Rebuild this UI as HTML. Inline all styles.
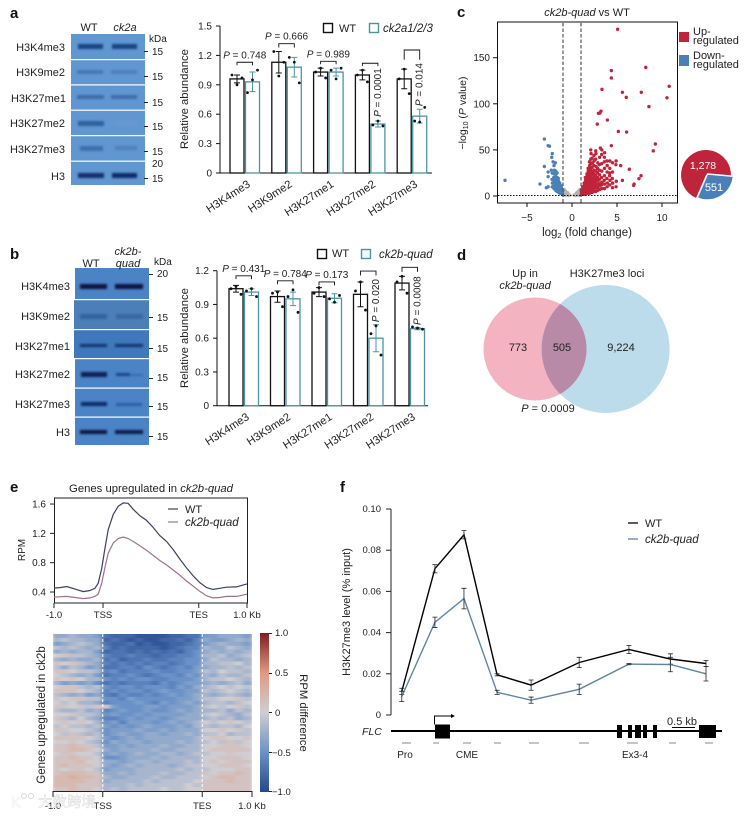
<!DOCTYPE html>
<html lang="en">
<head>
<meta charset="utf-8">
<title>Histone methylation figure</title>
<style>
html,body{margin:0;padding:0;background:#fff;}
svg{display:block;}
text{font-family:"Liberation Sans","Noto Sans CJK SC",sans-serif;fill:#222;}
.i{font-style:italic;}
.l{font-weight:bold;font-size:15px;fill:#111;}
</style>
</head>
<body>
<svg id="fig" width="749" height="816" viewBox="0 0 749 816" xmlns="http://www.w3.org/2000/svg">
<defs>
<filter id="bl" x="-20%" y="-100%" width="140%" height="300%"><feGaussianBlur stdDeviation="1.1"/></filter>
<filter id="hb" x="-2%" y="-2%" width="104%" height="104%"><feGaussianBlur stdDeviation="2 0.3"/></filter>
<clipPath id="hc"><rect x="53" y="634" width="199" height="157"/></clipPath>
<linearGradient id="cb" x1="0" y1="0" x2="0" y2="1">
<stop offset="0" stop-color="#7f1d22"/><stop offset=".25" stop-color="#e09a80"/><stop offset=".5" stop-color="#cfcdd2"/><stop offset=".75" stop-color="#6a92c8"/><stop offset="1" stop-color="#24488f"/>
</linearGradient>
</defs>
<rect width="749" height="816" fill="#fff"/>

<text class="l" x="10" y="18">a</text>
<text class="l" x="10" y="259">b</text>
<text class="l" x="457" y="17">c</text>
<text class="l" x="457" y="260">d</text>
<text class="l" x="10" y="492">e</text>
<text class="l" x="340" y="492">f</text>

<!-- Panel a blot -->
<g>
<rect x="71" y="34" width="74" height="151" fill="#6097d0"/>
<g filter="url(#bl)">
<rect x="78" y="44" width="25" height="5" fill="#1f4286"/><rect x="112" y="44" width="25" height="5" fill="#1f4286"/>
<rect x="77" y="70" width="26" height="4" fill="#4578b6"/><rect x="111" y="70" width="26" height="4" fill="#4d7fbc"/>
<rect x="77" y="95" width="27" height="4" fill="#3c6cab"/><rect x="111" y="95" width="26" height="4" fill="#3d6dac"/>
<rect x="78" y="121" width="26" height="5" fill="#2f5e9f"/><rect x="113" y="121" width="25" height="4" fill="#6a97cb"/>
<rect x="80" y="146" width="23" height="5" fill="#3c6eae"/><rect x="115" y="146" width="22" height="4" fill="#527fbb"/>
<rect x="78" y="173" width="26" height="5" fill="#122f6e"/><rect x="112" y="173" width="25" height="5" fill="#0f2a66"/>
</g>
<rect x="71" y="59" width="74" height="1.2" fill="#fff"/><rect x="71" y="84.3" width="74" height="1.2" fill="#fff"/><rect x="71" y="109.6" width="74" height="1.2" fill="#fff"/><rect x="71" y="135" width="74" height="1.2" fill="#fff"/><rect x="71" y="160.6" width="74" height="1.2" fill="#fff"/>
</g>
<g font-size="11" text-anchor="end">
<text x="65" y="51">H3K4me3</text><text x="65" y="76">H3K9me2</text><text x="66" y="102">H3K27me1</text><text x="65" y="127">H3K27me2</text><text x="65" y="153">H3K27me3</text><text x="65" y="180">H3</text>
</g>
<g font-size="11" text-anchor="middle"><text x="89" y="31">WT</text><text x="125" y="31" class="i">ck2a</text></g>
<g font-size="10">
<text x="149" y="42">kDa</text><text x="152" y="55">15</text><text x="152" y="80">15</text><text x="152" y="106">15</text><text x="152" y="130">15</text><text x="152" y="155">15</text><text x="152" y="167">20</text><text x="152" y="182">15</text>
<path d="M144 51.500h4M144 76.500h4M144 102.500h4M144 126.500h4M144 151.500h4M144 178.500h4" stroke="#222" stroke-width="1"/>
</g>

<!-- Panel b blot -->
<g>
<rect x="75" y="268" width="74" height="177" fill="#4a84c6"/>
<rect x="74" y="300" width="75" height="29" fill="#4c7fb8"/>
<rect x="74" y="329" width="75" height="29" fill="#4078bc"/>
<g filter="url(#bl)">
<rect x="80" y="284" width="27" height="5" fill="#08183f"/><rect x="115" y="284" width="28" height="5" fill="#08183f"/>
<rect x="80" y="314" width="27" height="5" fill="#33639f"/><rect x="116" y="314" width="27" height="5" fill="#3a68a4"/>
<rect x="80" y="344" width="27" height="3" fill="#12306a"/><rect x="115" y="344" width="28" height="3" fill="#14336e"/>
<rect x="81" y="372" width="26" height="5" fill="#0b2258"/><rect x="116" y="373" width="14" height="3" fill="#1d4486"/><rect x="130" y="374" width="13" height="2" fill="#386bab"/>
<rect x="81" y="402" width="26" height="4" fill="#0e2a66"/><rect x="116" y="403" width="26" height="3" fill="#2f5d9e"/>
<rect x="80" y="430" width="27" height="4" fill="#08183f"/><rect x="115" y="430" width="28" height="4" fill="#0a1c48"/>
</g>
<rect x="74" y="299" width="75" height="1.2" fill="#fff"/><rect x="74" y="329" width="75" height="1.2" fill="#fff"/><rect x="74" y="358" width="75" height="1.2" fill="#fff"/><rect x="74" y="387.500" width="75" height="1.2" fill="#fff"/><rect x="74" y="416.500" width="75" height="1.2" fill="#fff"/>
</g>
<g font-size="11" text-anchor="end">
<text x="70" y="290">H3K4me3</text><text x="70" y="320">H3K9me2</text><text x="70" y="350">H3K27me1</text><text x="70" y="378">H3K27me2</text><text x="70" y="408">H3K27me3</text><text x="70" y="436">H3</text>
</g>
<g font-size="11" text-anchor="middle"><text x="91" y="267">WT</text><text x="128" y="255" class="i">ck2b-</text><text x="128" y="267" class="i">quad</text></g>
<g font-size="10">
<text x="154" y="265">kDa</text><text x="157" y="277">20</text><text x="157" y="321">15</text><text x="157" y="352">15</text><text x="157" y="381">15</text><text x="157" y="410">15</text><text x="157" y="440">15</text>
<path d="M149 274.500h4M149 317.500h4M149 348.500h4M149 378.500h4M149 406.500h4M149 436.500h4" stroke="#222" stroke-width="1"/>
</g>

<g id="plotA"></g>
<g id="plotB"></g>

<!-- Bar legends -->
<g>
<rect x="323.500" y="23.500" width="9" height="9" fill="#fff" stroke="#111" stroke-width="1.400"/><text x="339" y="32" font-size="11">WT</text>
<rect x="369.500" y="23.500" width="9" height="9" fill="#fff" stroke="#4b95a3" stroke-width="1.400"/><text x="383" y="32" font-size="11.500" class="i">ck2a1/2/3</text>
</g>
<g>
<rect x="317.500" y="249.500" width="9" height="9" fill="#fff" stroke="#111" stroke-width="1.400"/><text x="332" y="257" font-size="11">WT</text>
<rect x="361.500" y="249.500" width="9" height="9" fill="#f0fafb" stroke="#4b95a3" stroke-width="1.400"/><text x="379" y="258" font-size="11.500" class="i">ck2b-quad</text>
</g>

<!-- Panel c -->
<g id="volcano"></g>
<text x="587" y="16" font-size="11" text-anchor="middle"><tspan class="i">ck2b-quad</tspan> vs WT</text>
<text transform="translate(466,113) rotate(-90)" font-size="10.500" text-anchor="middle">−log<tspan font-size="7" dy="2">10</tspan><tspan dy="-2"> (</tspan><tspan class="i">P</tspan> value)</text>
<text x="587" y="236" font-size="11.500" text-anchor="middle">log<tspan font-size="7.500" dy="2">2</tspan><tspan dy="-2"> (fold change)</tspan></text>
<g>
<rect x="679" y="32" width="10" height="10" fill="#c0243a"/><rect x="679" y="55" width="10" height="11" fill="#4a80b8"/>
<text x="693" y="35" font-size="11">Up-</text><text x="693" y="44" font-size="11">regulated</text>
<text x="693" y="59" font-size="11">Down-</text><text x="693" y="68" font-size="11">regulated</text>
</g>
<g id="pie"></g>

<!-- Panel d -->
<g>
<circle cx="535" cy="349" r="51.500" fill="#f3b3c1"/>
<circle cx="605.700" cy="349" r="64" fill="#bcdcec"/>
<path d="M560.100 304A51.500 51.500 0 0 1 560.100 394A64 64 0 0 1 560.100 304Z" fill="#b98aa8"/>
<g font-size="11" text-anchor="middle">
<text x="525" y="277">Up in</text><text x="525" y="289" class="i">ck2b-quad</text><text x="607" y="277">H3K27me3 loci</text>
<text x="518" y="351">773</text><text x="562" y="351">505</text><text x="621" y="351">9,224</text>
<text x="548" y="412"><tspan class="i">P</tspan> = 0.0009</text>
</g>
</g>

<!-- Panel e -->
<text x="151" y="492" font-size="11.300" text-anchor="middle">Genes upregulated in <tspan class="i">ck2b-quad</tspan></text>
<g id="profile"></g>
<g id="heat"></g>
<text transform="translate(25,550) rotate(-90)" font-size="10" text-anchor="middle">RPM</text>
<text transform="translate(45,715) rotate(-90)" font-size="11.500" text-anchor="middle">Genes upregulated in ck2b</text>
<rect x="260" y="633" width="9" height="159" fill="url(#cb)"/>
<g font-size="9.500">
<text x="275" y="636">1.0</text><text x="275" y="676">0.5</text><text x="275" y="716">0</text><text x="272" y="756">−0.5</text><text x="272" y="795">−1.0</text>
<path d="M269 633.500h3M269 673.500h3M269 712.500h3M269 752.500h3M269 791.500h3" stroke="#222"/>
</g>
<text transform="translate(300,713) rotate(90)" font-size="11.300" text-anchor="middle">RPM difference</text>

<!-- Panel f -->
<g id="chip"></g>
<text transform="translate(350,612) rotate(-90)" font-size="11" text-anchor="middle">H3K27me3 level (% input)</text>
<g>
<path d="M628 523h10" stroke="#000" stroke-width="1.300"/><text x="645" y="527" font-size="11">WT</text>
<path d="M628 539h10" stroke="#5c86a8" stroke-width="1.300"/><text x="645" y="543" font-size="11.500" class="i">ck2b-quad</text>
</g>
<g>
<text x="362" y="735" font-size="10.500" class="i">FLC</text>
<rect x="391" y="730" width="331" height="2" fill="#000"/>
<path d="M435 724.500h15v14h-15zM617 725h5v13h-5zM628 725h4v13h-4zM635 725h6v13h-6zM643 725h4v13h-4zM653 725h4v13h-4zM699 725h17v13h-17z" fill="#000"/>
<path d="M434.500 724.500v-8.500h19" fill="none" stroke="#000"/><path d="M451 714l4 2l-4 2z" fill="#000"/>
<path d="M672 727.500h23" stroke="#000"/><text x="682" y="725" font-size="11" text-anchor="middle">0.5 kb</text>
<path d="M402 743h9M433 743h6M463 743h8M494 743h7M529 743h10M579 743h10M627 743h11M669 743h7M705 743h8" stroke="#8a8a8a" stroke-width="1"/>
<g font-size="10" text-anchor="middle"><text x="405" y="758">Pro</text><text x="467" y="758">CME</text><text x="635" y="758">Ex3-4</text></g>
</g>

<g opacity=".8">
<path d="M13 796v12M13 803l7-6M14 802l7 6" fill="none" stroke="#f4f4f4" stroke-width="2.500"/>
<circle cx="24" cy="796" r="2.500" fill="none" stroke="#ccc"/><circle cx="31" cy="796" r="2.500" fill="none" stroke="#ccc"/>
<text x="38" y="807" font-size="14.500" style="fill:#fff;stroke:#c8c8c8;stroke-width:.4">大数跨境</text>
</g>

<script>
// ===== Panel a data =====
const barCategories = ['H3K4me3', 'H3K9me2', 'H3K27me1', 'H3K27me2', 'H3K27me3'];
const barTicksA = [0, 0.3, 0.6, 0.9, 1.2, 1.5];
const wtMeansA = [0.96, 1.13, 1.03, 1.0, 0.96];
const mutMeansA = [0.93, 1.08, 1.03, 0.5, 0.58];
const wtErrA = [0.04, 0.11, 0.04, 0.05, 0.1];
const mutErrA = [0.1, 0.1, 0.04, 0.03, 0.07];
const wtPointsA = [[0.9, 0.97, 1.0], [0.99, 1.13, 1.24], [1.07, 0.97, 1.03], [1.05, 0.93, 1.0], [1.06, 0.81, 0.96]];
const mutPointsA = [[0.95, 1.05, 0.82], [1.13, 0.92, 1.18], [0.96, 1.07, 1.05], [0.53, 0.48, 0.49], [0.52, 0.67, 0.53]];
const pTextA = ['0.748', '0.666', '0.989', '0.0001', '0.014'];
const bracketTopA = [1.13, 1.32, 1.14, 1.12, 1.255];
const bracketDropA = [0.03, 0.04, 0.03, 0.03, 0.1];
const pGapA = [0, 0, 0, 5, 13];

// ===== Panel b data =====
const barTicksB = [0, 0.3, 0.6, 0.9, 1.2];
const wtMeansB = [1.04, 0.97, 1.01, 0.99, 1.09];
const mutMeansB = [1.01, 0.95, 0.955, 0.6, 0.685];
const wtErrB = [0.03, 0.05, 0.04, 0.11, 0.06];
const mutErrB = [0.03, 0.06, 0.04, 0.12, 0.01];
const wtPointsB = [[1.06, 0.99, 1.04], [1.01, 0.88, 1.0], [1.05, 0.97, 1.0], [1.1, 0.85, 1.02], [1.15, 1.0, 1.1]];
const mutPointsB = [[1.04, 0.97, 1.02], [1.03, 0.83, 0.97], [0.92, 0.98, 0.95], [0.71, 0.45, 0.64], [0.69, 0.68, 0.7]];
const pTextB = ['0.431', '0.784', '0.173', '0.020', '0.0008'];
const bracketTopB = [1.155, 1.11, 1.1, 1.197, 1.23];
const bracketDropB = [0.03, 0.03, 0.03, 0.04, 0.04];
const pGapB = [0, 0, 0, 8, 9];

// ===== Panel c data =====
const volcanoXTicks = [-5, 0, 5, 10];
const volcanoYTicks = [0, 50, 100, 150];
const volcanoThresholds = [-1, 1];
const pieCounts = [1278, 551];
const pieLabels = ['1,278', '551'];
const grayGenes = [[-0.95,1],[-0.9,3],[-0.92,5],[-0.88,7],[-0.75,1],[-0.72,3],[-0.7,5],[-0.55,1],[-0.5,2],[-0.47,3.5],[-0.32,0.5],[-0.25,1],[0.25,1],[0.33,0.5],[0.47,3],[0.5,2],[0.55,1],[0.7,5],[0.72,3],[0.75,1],[0.88,7],[0.9,3],[0.92,5],[0.95,1],[0.6,4],[-0.6,4],[-0.8,6],[0.8,6]];
const downGenes = [[-7.44,17],[-3.56,13],[-3.07,61.8],[-3.07,32],[-2.65,54.6],[-2.5,54],[-2.19,46],[-2.25,42],[-2.1,37],[-1.85,36],[-2.0,33],[-2.3,28],[-2.65,26],[-2.65,21],[-2.65,10],[-2.85,9],
[-1.05,2],[-1.08,4],[-1.03,6],[-1.2,3],[-1.22,6],[-1.18,9],[-1.2,11],[-1.35,3],[-1.33,6],[-1.38,9],[-1.35,12],[-1.36,14],[-1.5,4],[-1.5,7],[-1.53,10],[-1.48,13],[-1.5,16],[-1.52,19],
[-1.65,5],[-1.66,8],[-1.64,11],[-1.67,14],[-1.65,17],[-1.63,20],[-1.66,25],[-1.8,6],[-1.82,9],[-1.78,12],[-1.8,15],[-1.83,18],[-1.8,21],[-1.78,24],[-1.82,27],
[-2.0,8],[-2.02,11],[-1.98,14],[-2.0,17],[-2.03,20],[-2.0,24],[-1.97,28],[-2.2,10],[-2.18,14],[-2.22,18],[-2.2,25]];
const upGenes = [[5.07,180.8],[4.37,136],[4.37,128],[8.2,139.5],[10.8,119],[10.55,106.5],[3.33,115.7],[5.6,112.5],[7.7,112.5],[6.03,107],[8.55,97],[3.22,92],[2.93,89.7],[3.1,90],[3.93,82.4],[2.81,78],[5.15,70],[6.07,69.4],[9.26,56.4],[9.03,49],[4.37,54.6],[5.41,33],[6.37,29],[7.67,22],[7.44,18.8],[6.9,13],[6.85,11.5],[5.6,17],
[1.05,2],[1.06,4],[1.03,6],[1.07,7],[1.2,2],[1.2,4],[1.22,7],[1.18,10],[1.35,2],[1.36,5],[1.34,8],[1.33,11],[1.35,14],[1.5,2],[1.5,5],[1.52,8],[1.49,11],[1.5,14],[1.51,17],[1.48,20],
[1.65,3],[1.65,6],[1.66,9],[1.64,12],[1.65,15],[1.67,18],[1.63,21],[1.66,24],[1.8,3],[1.8,6],[1.82,9],[1.78,12],[1.81,15],[1.79,18],[1.8,21],[1.83,24],[1.8,27],[1.79,30],
[1.95,3],[1.95,6],[1.97,9],[1.93,12],[1.96,15],[1.94,18],[1.95,21],[1.97,24],[1.93,27],[1.95,30],[1.96,33],[1.94,37],
[2.1,4],[2.1,7],[2.12,10],[2.08,13],[2.11,16],[2.09,19],[2.1,22],[2.12,25],[2.08,28],[2.1,31],[2.11,35],[2.09,40],[2.12,46],[2.08,50],
[2.25,4],[2.25,7],[2.27,10],[2.23,13],[2.26,16],[2.24,19],[2.25,23],[2.27,27],[2.23,31],[2.26,36],[2.24,41],
[2.45,5],[2.45,8],[2.47,11],[2.43,14],[2.46,17],[2.44,20],[2.45,24],[2.47,28],[2.43,33],[2.46,38],[2.44,44],
[2.65,5],[2.65,9],[2.67,12],[2.63,15],[2.66,19],[2.64,22],[2.65,27],[2.67,32],[2.63,40],[2.66,46],[2.64,49],
[2.85,6],[2.85,9],[2.87,13],[2.83,17],[2.86,20],[2.84,25],[2.85,30],[2.87,36],
[3.05,7],[3.05,11],[3.07,14],[3.03,18],[3.06,23],[3.04,28],[3.05,34],[3.07,42],[3.15,52],
[3.3,8],[3.3,12],[3.32,15],[3.28,20],[3.31,27],[3.29,35],[3.3,45],[3.32,50],
[3.6,8],[3.62,13],[3.58,17],[3.6,22],[3.61,30],[3.59,37],[3.6,42],[3.62,47],
[3.9,10],[3.92,14],[3.88,19],[3.9,26],[3.91,33],[3.89,38],[4.2,12],[4.22,17],[4.18,22],[4.2,30],[4.21,38],[4.19,25],
[4.5,9],[4.52,14],[4.48,19],[4.5,26],[4.51,36],[4.9,10],[4.92,16],[4.88,34],[4.9,38]];

// ===== Panel e data =====
const profilePercent = [0,3.1,6.6,10.9,15.2,18.6,21.2,22.9,24.7,26.4,28.1,30.7,33.3,35.9,38.4,41,44.5,47.9,51.4,54.8,58.3,61.7,65.2,68.6,72.1,75.5,79,82.4,85.9,89.3,94.5,100];
const profileWT = [.455,.46,.475,.44,.405,.42,.45,.52,.72,1.0,1.25,1.46,1.57,1.615,1.61,1.53,1.44,1.38,1.28,1.17,1.09,.98,.85,.73,.62,.53,.46,.435,.45,.465,.47,.51];
const profileMut = [.33,.335,.34,.325,.31,.32,.34,.37,.52,.74,.93,1.07,1.13,1.15,1.13,1.09,1.03,.97,.9,.83,.77,.7,.63,.55,.48,.41,.35,.32,.325,.34,.34,.37];
const profileYTicks = [0.4, 0.8, 1.2, 1.6];
const profileXLabels = ['-1.0', 'TSS', 'TES', '1.0 Kb'];
const profileXTickPercent = [0, 25.4, 75, 100];
const heatmapXLabels = ['-1.0', 'TSS', 'TES', '1.0 Kb'];
const heatmapXTickPercent = [0, 25, 75, 100];
// Heatmap cells in tenths of RPM difference; rows top to bottom
const heatmapTenths = [
[-3,-3,-2,-3,-3,-4,-7,-8,-8,-8,-9,-9,-9,-9,-8,-8,-7,-7,-4,-4,-3,-3,-3,-4],
[-2,-1,-2,-2,-3,-3,-8,-7,-8,-9,-8,-9,-9,-8,-8,-7,-8,-6,-3,-4,-4,-3,-2,-3],
[-4,-3,-2,-1,-2,-3,-7,-8,-8,-7,-9,-8,-9,-9,-8,-8,-7,-6,-4,-3,-2,-3,-3,-4],
[-1,-2,-1,-2,-3,-2,-6,-8,-7,-8,-8,-8,-8,-9,-8,-7,-6,-6,-2,-3,-3,-1,-2,-3],
[-3,-2,-3,-2,-2,-4,-8,-7,-7,-8,-7,-8,-7,-8,-7,-8,-6,-5,-3,-2,-3,-2,-3,-2],
[0,1,-1,-1,-2,-3,-6,-7,-7,-6,-7,-7,-8,-7,-7,-6,-6,-5,-2,-2,-1,-3,-2,-1],
[-2,-3,-2,-3,-3,-2,-7,-6,-8,-7,-7,-6,-7,-7,-6,-6,-5,-5,-3,-1,-2,-2,-3,-2],
[1,0,1,-1,-2,-3,-6,-7,-6,-7,-6,-7,-6,-6,-7,-6,-5,-5,-2,-2,-1,-1,0,-2],
[-1,-3,-1,-2,-4,-3,-7,-7,-6,-6,-7,-5,-6,-7,-6,-5,-6,-4,-3,-2,-2,-1,-2,-1],
[1,1,0,-1,-1,-2,-6,-5,-7,-6,-6,-6,-5,-6,-6,-5,-5,-4,-1,-2,0,-1,-1,-2],
[0,-1,-2,-3,-2,-4,-7,-6,-6,-5,-6,-7,-6,-5,-5,-6,-4,-5,-2,-3,-1,-2,-2,-1],
[1,0,1,0,-2,-2,-5,-6,-5,-6,-5,-5,-6,-6,-5,-5,-5,-4,-2,-1,-1,0,-1,-2],
[-2,-4,-3,-4,-3,-5,-7,-6,-7,-6,-6,-6,-7,-5,-6,-5,-4,-4,-3,-2,-3,-2,-1,-3],
[0,1,1,-1,-2,-1,-5,-6,-5,-5,-6,-5,-5,-5,-6,-4,-5,-3,-2,-1,0,-1,0,-1],
[1,1,1,0,-1,-2,-6,-5,-6,-5,-5,-6,-5,-4,-5,-5,-4,-4,-1,-2,-1,0,-1,-2],
[-1,-2,-3,-2,-4,-3,-6,-7,-5,-6,-6,-5,-6,-5,-4,-5,-4,-3,-2,-3,-2,-1,-2,-3],
[1,0,1,1,-1,-1,-5,-5,-6,-4,-5,-5,-5,-5,-5,-4,-4,-3,-1,-1,0,0,1,-1],
[0,-1,0,-2,-2,-3,-6,-5,-5,-5,-4,-5,-6,-4,-5,-4,-3,-4,-2,-1,-1,-2,-1,0],
[1,1,0,1,-1,1,1,-4,-5,-5,-5,-4,-4,-5,-4,-4,-4,-3,-1,0,-1,0,1,-1],
[-1,-2,-2,-1,-3,-2,-6,-5,-4,-5,-5,-4,-5,-5,-4,-3,-4,-3,-2,-2,-1,-3,-1,-2],
[0,0,1,-1,-1,-2,-5,-4,-5,-5,-4,-5,-4,-4,-4,-4,-3,-3,-1,0,-1,-2,-3,-1],
[1,-1,-2,0,-2,-3,-6,-6,-5,-4,-5,-4,-4,-5,-4,-3,-3,-3,-2,-1,-2,-1,-3,-2],
[0,1,0,1,0,-2,-5,-4,-6,-4,-4,-4,-5,-4,-3,-4,-3,-2,0,-1,0,1,0,-1],
[-1,0,-1,-1,-2,-1,-4,-5,-4,-5,-4,-3,-4,-4,-4,-3,-4,-2,-1,-2,-1,-1,-2,0],
[1,1,0,0,-1,-2,-5,-4,-4,-4,-3,-4,-4,-3,-4,-3,-3,-3,0,0,1,0,1,-1],
[0,-1,1,-1,-2,-1,-5,-4,-3,-4,-4,-3,-3,-4,-3,-3,-2,-3,-1,-1,0,-2,-1,-1],
[1,1,1,1,0,-1,-4,-5,-4,-3,-4,-3,-3,-3,-3,-3,-3,-2,0,1,1,0,0,1],
[0,0,1,0,-1,-2,-5,-3,-4,-3,-3,-4,-3,-3,-3,-2,-3,-2,-1,0,-1,1,-1,0],
[1,1,2,1,1,-1,-4,-4,-3,-4,-3,-3,-3,-2,-3,-3,-2,-2,0,0,1,1,1,0],
[1,1,2,2,1,0,-3,-4,-3,-3,-3,-3,-2,-3,-3,-2,-2,-2,0,1,1,1,1,1],
[0,1,1,0,0,-1,-4,-3,-4,-3,-2,-3,-3,-2,-2,-3,-2,-1,-1,0,0,1,0,0],
[1,1,2,1,1,0,-5,-5,-4,-3,-3,-3,-2,-3,-2,-2,-2,-2,0,0,1,1,1,0],
[1,1,1,2,0,0,-3,-3,-4,-3,-2,-2,-3,-2,-2,-2,-1,-2,0,1,0,1,1,1],
[1,2,1,1,1,0,-3,-4,-3,-2,-3,-2,-2,-2,-3,-2,-1,-1,0,0,1,1,1,0],
[1,0,1,1,0,-1,-4,-3,-3,-3,-2,-2,-2,-2,-2,-1,-2,-1,-1,0,0,0,1,1],
[1,2,2,2,1,1,-3,-3,-2,-3,-2,-2,-2,-1,-2,-2,-1,-1,1,0,1,1,2,1],
[2,2,3,2,2,1,-2,-3,-3,-2,-2,-2,-1,-2,-2,-1,-1,-1,0,1,2,2,1,1],
[2,2,2,2,1,1,-3,-2,-2,-2,-2,-1,-2,-1,-1,-1,-1,0,1,1,1,2,1,1],
[2,2,2,1,1,1,-2,-2,-2,-1,-2,-1,-1,-1,-1,-1,0,-1,1,1,1,1,1,1],
[1,1,2,1,1,0,-2,-1,-2,-1,-1,-1,-1,0,-1,-1,0,0,1,1,1,1,1,1]
];
const colorbarStops = [[-1,[36,72,143]],[-0.5,[106,146,200]],[0,[207,205,210]],[0.5,[224,154,128]],[1,[127,29,34]]];

// ===== Panel f data =====
const chipAmpliconKb = [0.13, 0.53, 0.88, 1.28, 1.69, 2.27, 2.87, 3.37, 3.80];
const chipWT = [0.0115, 0.071, 0.0875, 0.0195, 0.0145, 0.0255, 0.0318, 0.0272, 0.025];
const chipMut = [0.009, 0.045, 0.0565, 0.011, 0.0072, 0.0125, 0.0247, 0.0245, 0.02];
const chipWTErr = [0.0015, 0.002, 0.002, 0.0005, 0.0025, 0.0025, 0.002, 0.0025, 0.0015];
const chipMutErr = [0.0025, 0.0025, 0.005, 0.001, 0.0015, 0.0025, 0.0003, 0.0035, 0.0035];
const chipYTicks = [0, 0.02, 0.04, 0.06, 0.08, 0.1];

// ===== Helpers =====
const SVGNS = 'http://www.w3.org/2000/svg';
function mk(parent, tag, attrs, text) {
  const el = document.createElementNS(SVGNS, tag);
  for (const k in attrs) el.setAttribute(k, attrs[k]);
  if (text !== undefined) el.textContent = text;
  parent.appendChild(el);
  return el;
}

function drawBars(root, o) {
  const xG = i => o.x0 + i * o.step;
  const y = v => o.y0 - v * o.pxPerUnit;
  const barW = o.barW;
  const axis = mk(root, 'path', {d: 'M' + o.axisX + ' ' + y(o.ticks[o.ticks.length - 1]) + 'V' + o.y0 + 'H' + o.xEnd, fill: 'none', stroke: '#111', 'stroke-width': 1});
  
  
  o.ticks.forEach(t => {
    const tick = mk(root, 'line', {x1: o.axisX - 4, x2: o.axisX, y1: y(t), y2: y(t), stroke: '#111'});
    
    
    const lab = mk(root, 'text', {x: o.axisX - 8, y: y(t) + 3.5, 'font-size': 10, 'text-anchor': 'end'}, t === 0 ? '0' : t.toFixed(1));
    
    
  });
  const yt = mk(root, 'text', {transform: 'translate(' + o.titleX + ',' + o.titleY + ') rotate(-90)', 'font-size': 11.3, 'text-anchor': 'middle'}, 'Relative abundance');
  
  
  barCategories.forEach((c, i) => {
    const wtX = xG(i), mutX = xG(i) + barW + 1.5;
    const series = [
      {x: wtX, m: o.wt[i], e: o.wtErr[i], p: o.wtPts[i], col: '#111', n: 'wt'},
      {x: mutX, m: o.mut[i], e: o.mutErr[i], p: o.mutPts[i], col: '#4b95a3', n: 'mut'}
    ];
    series.forEach(s => {
      const bar = mk(root, 'rect', {x: s.x, y: y(s.m), width: barW, height: o.y0 - y(s.m), fill: '#fff', stroke: s.col, 'stroke-width': 1.3});
      
      
      const cx = s.x + barW / 2;
      const err = mk(root, 'path', {d: 'M' + cx + ' ' + y(s.m - s.e) + 'V' + y(s.m + s.e) + 'M' + (cx - 3) + ' ' + y(s.m + s.e) + 'H' + (cx + 3) + 'M' + (cx - 3) + ' ' + y(s.m - s.e) + 'H' + (cx + 3), stroke: s.col, fill: 'none', 'stroke-width': 1});
      
      
      s.p.forEach((v, j) => {
        const dot = mk(root, 'circle', {cx: cx + [0, 5, -5][j], cy: y(v), r: 1.4, fill: '#111'});
        
        
      });
    });
    const bx1 = wtX + barW / 2, bx2 = mutX + barW / 2, by = y(o.bracket[i]);
    const bk = mk(root, 'path', {d: 'M' + bx1 + ' ' + y(o.bracket[i] - o.drop[i]) + 'V' + by + 'H' + bx2 + 'V' + y(o.bracket[i] - o.drop[i]), fill: 'none', stroke: '#111', 'stroke-width': 0.9});
    
    
    const mid = (bx1 + bx2) / 2;
    let pl;
    if (i < 3) {
      pl = mk(root, 'text', {x: mid, y: by - 4, 'font-size': 10, 'text-anchor': 'middle'});
    } else {
      pl = mk(root, 'text', {transform: 'translate(' + (bx2 + 3) + ',' + (by + o.pGap[i]) + ') rotate(-90)', 'font-size': 10, 'text-anchor': 'end'});
    }
    
    
    mk(pl, 'tspan', {class: 'i'}, 'P');
    mk(pl, 'tspan', {}, ' = ' + o.pText[i]);
    const xl = mk(root, 'text', {transform: 'translate(' + (xG(i) + 21) + ',' + (o.y0 + 13) + ') rotate(-33)', 'font-size': 11.2, 'text-anchor': 'end'}, c);
    
    
  });
}

drawBars(document.getElementById('plotA'), {
  x0: 230, step: 41.8, y0: 173, pxPerUnit: 98, barW: 14, axisX: 220, xEnd: 432,
  ticks: barTicksA, wt: wtMeansA, mut: mutMeansA, wtErr: wtErrA, mutErr: mutErrA,
  wtPts: wtPointsA, mutPts: mutPointsA, pText: pTextA, bracket: bracketTopA, drop: bracketDropA, pGap: pGapA,
  titleX: 188, titleY: 99
});
drawBars(document.getElementById('plotB'), {
  x0: 229, step: 41.5, y0: 405.7, pxPerUnit: 112.5, barW: 14, axisX: 217, xEnd: 428,
  ticks: barTicksB, wt: wtMeansB, mut: mutMeansB, wtErr: wtErrB, mutErr: mutErrB,
  wtPts: wtPointsB, mutPts: mutPointsB, pText: pTextB, bracket: bracketTopB, drop: bracketDropB, pGap: pGapB,
  titleX: 188, titleY: 338
});

// ===== Volcano =====
(function () {
  const root = document.getElementById('volcano');
  const x = v => 572 + v * 9;
  const y = v => 196 - v * 0.922;
  const frame = mk(root, 'rect', {x: 497.5, y: 22, width: 180, height: 181, fill: '#fff', stroke: '#111', 'stroke-width': 1});
  
  
  const groups = [[grayGenes, '#b8b3ae', 'gene-not-significant'], [downGenes, '#4a80b8', 'gene-down'], [upGenes, '#c0243a', 'gene-up']];
  groups.forEach(g => {
    g[0].forEach(p => {
      const d = mk(root, 'circle', {cx: x(p[0]), cy: y(p[1]), r: 1.7, fill: g[1]});
      
      
    });
  });
  volcanoThresholds.forEach(t => {
    const l = mk(root, 'line', {x1: x(t), x2: x(t), y1: 23, y2: 203, stroke: '#555', 'stroke-width': 1.2, 'stroke-dasharray': '3.5 2'});
    
    
  });
  const h = mk(root, 'line', {x1: 498, x2: 677, y1: 195.5, y2: 195.5, stroke: '#111', 'stroke-width': 1, 'stroke-dasharray': '1.5 1.5'});
  
  
  volcanoXTicks.forEach(t => {
    const tk = mk(root, 'line', {x1: x(t), x2: x(t), y1: 203, y2: 207, stroke: '#111'});
    
    
    const lb = mk(root, 'text', {x: x(t), y: 221, 'font-size': 10, 'text-anchor': 'middle'}, t < 0 ? '−' + (-t) : String(t));
    
    
  });
  volcanoYTicks.forEach(t => {
    const tk = mk(root, 'line', {x1: 493, x2: 497, y1: y(t), y2: y(t), stroke: '#111'});
    
    
    const lb = mk(root, 'text', {x: 490, y: y(t) + 3.5, 'font-size': 10, 'text-anchor': 'end'}, String(t));
    
    
  });
})();

// ===== Pie =====
(function () {
  const root = document.getElementById('pie');
  const cx = 706, cy = 175, r = 25;
  const total = pieCounts[0] + pieCounts[1];
  const startDeg = 5;
  const blueSweep = pieCounts[1] / total * 360;
  const pt = (ox, oy, a, rad) => [ox + rad * Math.cos(a * Math.PI / 180), oy + rad * Math.sin(a * Math.PI / 180)];
  const a1 = pt(cx, cy, startDeg + blueSweep, r), a2 = pt(cx, cy, startDeg + 360, r);
  const red = mk(root, 'path', {d: 'M' + cx + ' ' + cy + 'L' + a1[0] + ' ' + a1[1] + 'A' + r + ' ' + r + ' 0 1 1 ' + a2[0] + ' ' + a2[1] + 'Z', fill: '#c0243a'});
  
  
  const bx = cx + 1.5, by = cy - 1;
  const b1 = pt(bx, by, startDeg, r + 1), b2 = pt(bx, by, startDeg + blueSweep, r + 1);
  const blue = mk(root, 'path', {d: 'M' + bx + ' ' + by + 'L' + b1[0] + ' ' + b1[1] + 'A' + (r + 1) + ' ' + (r + 1) + ' 0 0 1 ' + b2[0] + ' ' + b2[1] + 'Z', fill: '#4a80b8', stroke: '#fff', 'stroke-width': 1.4});
  
  
  const t1 = mk(root, 'text', {x: 703, y: 169, 'font-size': 10.5, 'text-anchor': 'middle', style: 'fill:#fff'}, pieLabels[0]);
  
  
  const t2 = mk(root, 'text', {x: 714, y: 191, 'font-size': 11, 'text-anchor': 'middle', style: 'fill:#fff'}, pieLabels[1]);
  
  
})();

// ===== RPM profile =====
(function () {
  const root = document.getElementById('profile');
  const x = p => 54 + p * 1.93;
  const y = v => 592 - (v - 0.4) * 73.3;
  const frame = mk(root, 'rect', {x: 54.5, y: 498, width: 193, height: 105, fill: '#fff', stroke: '#222', 'stroke-width': 1});
  
  
  profileYTicks.forEach(t => {
    const tk = mk(root, 'line', {x1: 50, x2: 54, y1: y(t), y2: y(t), stroke: '#222'});
    
    
    const lb = mk(root, 'text', {x: 46, y: y(t) + 3.5, 'font-size': 10, 'text-anchor': 'end'}, t.toFixed(1));
    
    
  });
  profileXLabels.forEach((l, i) => {
    const px = x(profileXTickPercent[i]);
    const tk = mk(root, 'line', {x1: px, x2: px, y1: 603, y2: 608, stroke: '#222'});
    
    
    const lb = mk(root, 'text', {x: px, y: 618, 'font-size': 9.5, 'text-anchor': 'middle'}, l);
    
    
  });
  const toPath = vals => vals.map((v, i) => (i ? 'L' : 'M') + x(profilePercent[i]).toFixed(1) + ' ' + y(v).toFixed(1)).join('');
  const wt = mk(root, 'path', {d: toPath(profileWT), fill: 'none', stroke: '#3b3f68', 'stroke-width': 1.2});
  
  
  const mut = mk(root, 'path', {d: toPath(profileMut), fill: 'none', stroke: '#a0708f', 'stroke-width': 1.2});
  
  
  const l1 = mk(root, 'line', {x1: 168, x2: 178, y1: 509, y2: 509, stroke: '#3b3f68', 'stroke-width': 1.2});
  
  
  const l2 = mk(root, 'line', {x1: 168, x2: 178, y1: 522, y2: 522, stroke: '#a0708f', 'stroke-width': 1.2});
  
  
  const t1 = mk(root, 'text', {x: 185, y: 513, 'font-size': 11}, 'WT');
  
  
  const t2 = mk(root, 'text', {x: 185, y: 526, 'font-size': 11.5, class: 'i'}, 'ck2b-quad');
  
  
})();

// ===== Heatmap =====
(function () {
  const root = document.getElementById('heat');
  const left = 53, top = 634, w = 199, h = 157;
  const nRows = heatmapTenths.length, nCols = heatmapTenths[0].length;
  const color = v => {
    const c = Math.max(-1, Math.min(1, v));
    for (let i = 1; i < colorbarStops.length; i++) {
      if (c <= colorbarStops[i][0]) {
        const a = colorbarStops[i - 1], b = colorbarStops[i];
        const t = (c - a[0]) / (b[0] - a[0]);
        return 'rgb(' + a[1].map((q, j) => Math.round(q + (b[1][j] - q) * t)).join(',') + ')';
      }
    }
    return '#000';
  };
  const clip = mk(root, 'g', {'clip-path': 'url(#hc)'});
  const cells = mk(clip, 'g', {filter: 'url(#hb)'});
  heatmapTenths.forEach((row, r) => {
    row.forEach((val, c) => {
      const cell = mk(cells, 'rect', {x: left + c * w / nCols - 1, y: top + r * h / nRows, width: w / nCols + 2, height: h / nRows + 0.5, fill: color(val / 10)});
      
      
    });
  });
  heatmapXLabels.forEach((l, i) => {
    const px = left + heatmapXTickPercent[i] / 100 * w;
    if (l === 'TSS' || l === 'TES') {
      const dash = mk(root, 'line', {x1: px, x2: px, y1: top, y2: top + h, stroke: '#fff', 'stroke-width': 1, 'stroke-dasharray': '3 2'});
      
      
    }
    const tk = mk(root, 'line', {x1: px, x2: px, y1: top + h, y2: top + h + 6, stroke: '#222'});
    
    
    const lb = mk(root, 'text', {x: px, y: 809, 'font-size': 9.5, 'text-anchor': 'middle'}, l);
    
    
  });
  const ax = mk(root, 'line', {x1: left, x2: left + w, y1: top + h + 0.5, y2: top + h + 0.5, stroke: '#222'});
  
  
})();

// ===== ChIP line chart =====
(function () {
  const root = document.getElementById('chip');
  const x = k => 391 + (k + 0) * 82.9;
  const y = v => 715 - v * 2060;
  const ax = mk(root, 'line', {x1: 391, x2: 391, y1: y(0.1), y2: y(0), stroke: '#222'});
  
  
  chipYTicks.forEach(t => {
    const tk = mk(root, 'line', {x1: 386, x2: 391, y1: y(t), y2: y(t), stroke: '#222'});
    
    
    const lb = mk(root, 'text', {x: 381, y: y(t) + 3, 'font-size': 9.5, 'text-anchor': 'end'}, t === 0 ? '0' : t.toFixed(2));
    
    
  });
  const drawSeries = (vals, errs, col, name) => {
    const d = vals.map((v, i) => (i ? 'L' : 'M') + x(chipAmpliconKb[i]).toFixed(1) + ' ' + y(v).toFixed(1)).join('');
    const line = mk(root, 'path', {d: d, fill: 'none', stroke: col, 'stroke-width': 1.4});
    
    
    vals.forEach((v, i) => {
      const px = x(chipAmpliconKb[i]);
      const e = errs[i];
      const eb = mk(root, 'path', {d: 'M' + px + ' ' + y(v - e) + 'V' + y(v + e) + 'M' + (px - 2.5) + ' ' + y(v + e) + 'H' + (px + 2.5) + 'M' + (px - 2.5) + ' ' + y(v - e) + 'H' + (px + 2.5), fill: 'none', stroke: '#222', 'stroke-width': 0.8});
      
      
    });
  };
  drawSeries(chipWT, chipWTErr, '#000', 'wt');
  drawSeries(chipMut, chipMutErr, '#5c86a8', 'ck2b-quad');
})();
</script>
</svg>
</body>
</html>
